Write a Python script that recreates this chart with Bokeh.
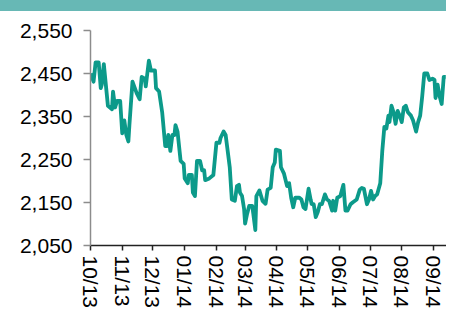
import pandas as pd
from bokeh.plotting import figure
from bokeh.layouts import column
from bokeh.models import Range1d, FixedTicker, NumeralTickFormatter, Div
from bokeh.embed import file_html
from bokeh.resources import INLINE

start_date = "2013-10-01"
end_date = "2014-09-13 17:00"

dates = [
    "2013-10-01", "2013-10-04", "2013-10-06", "2013-10-09", "2013-10-11", "2013-10-12",
    "2013-10-14", "2013-10-18", "2013-10-22", "2013-10-23", "2013-10-25", "2013-10-27",
    "2013-10-30", "2013-11-01", "2013-11-03", "2013-11-05", "2013-11-07", "2013-11-08",
    "2013-11-11", "2013-11-15", "2013-11-18", "2013-11-20", "2013-11-23", "2013-11-24",
    "2013-11-27", "2013-11-29", "2013-12-03", "2013-12-04", "2013-12-07", "2013-12-10",
    "2013-12-13", "2013-12-15", "2013-12-16", "2013-12-18", "2013-12-20", "2013-12-22",
    "2013-12-23", "2013-12-25", "2013-12-28", "2013-12-31", "2014-01-01", "2014-01-04",
    "2014-01-05", "2014-01-08", "2014-01-09", "2014-01-11", "2014-01-13", "2014-01-16",
    "2014-01-18", "2014-01-20", "2014-01-21", "2014-01-25", "2014-01-29", "2014-02-01",
    "2014-02-04", "2014-02-05", "2014-02-08", "2014-02-10", "2014-02-12", "2014-02-14",
    "2014-02-16", "2014-02-19", "2014-02-21", "2014-02-23", "2014-02-24", "2014-02-26",
    "2014-02-28", "2014-03-01", "2014-03-03", "2014-03-05", "2014-03-08", "2014-03-09",
    "2014-03-11", "2014-03-12", "2014-03-15", "2014-03-18", "2014-03-21", "2014-03-23",
    "2014-03-26", "2014-03-28", "2014-03-30", "2014-03-31", "2014-04-04", "2014-04-05",
    "2014-04-08", "2014-04-11", "2014-04-13", "2014-04-15", "2014-04-17", "2014-04-19",
    "2014-04-23", "2014-04-25", "2014-04-27", "2014-04-29", "2014-05-02", "2014-05-04",
    "2014-05-05", "2014-05-07", "2014-05-09", "2014-05-11", "2014-05-13", "2014-05-15",
    "2014-05-18", "2014-05-20", "2014-05-22", "2014-05-25", "2014-05-26", "2014-05-28",
    "2014-05-30", "2014-06-02", "2014-06-05", "2014-06-07", "2014-06-09", "2014-06-12",
    "2014-06-14", "2014-06-18", "2014-06-21", "2014-06-23", "2014-06-25", "2014-06-28",
    "2014-06-30", "2014-07-02", "2014-07-04", "2014-07-06", "2014-07-08", "2014-07-11",
    "2014-07-13", "2014-07-15", "2014-07-17", "2014-07-19", "2014-07-20", "2014-07-22",
    "2014-07-24", "2014-07-26", "2014-07-28", "2014-07-30", "2014-08-01", "2014-08-03",
    "2014-08-05", "2014-08-07", "2014-08-10", "2014-08-12", "2014-08-15", "2014-08-17",
    "2014-08-19", "2014-08-21", "2014-08-23", "2014-08-26", "2014-08-28", "2014-08-31",
    "2014-09-02", "2014-09-03", "2014-09-05", "2014-09-07", "2014-09-09", "2014-09-11",
    "2014-09-13",
]

prices = [
    2450, 2431, 2476, 2476, 2416, 2424,
    2472, 2375, 2367, 2408, 2371, 2386,
    2386, 2311, 2341, 2307, 2292, 2330,
    2431, 2405, 2390, 2442, 2438, 2420,
    2480, 2457, 2457, 2416, 2408, 2360,
    2281, 2281, 2307, 2270, 2307, 2307,
    2330, 2315, 2247, 2240, 2206, 2195,
    2214, 2214, 2173, 2165, 2247, 2247,
    2225, 2225, 2202, 2206, 2214, 2289,
    2289, 2300, 2315, 2307, 2270, 2232,
    2157, 2154, 2188, 2191, 2173, 2165,
    2135, 2101, 2124, 2142, 2142, 2124,
    2086, 2165, 2178, 2154, 2147, 2180,
    2184, 2232, 2243, 2273, 2270, 2232,
    2217, 2188, 2195, 2161, 2139, 2161,
    2161, 2157, 2139, 2135, 2182, 2157,
    2146, 2146, 2116, 2128, 2146, 2146,
    2169, 2157, 2154, 2131, 2154, 2131,
    2161, 2165, 2191, 2131, 2131, 2146,
    2150, 2157, 2180, 2184, 2182, 2146,
    2157, 2177, 2157, 2165, 2169, 2195,
    2270, 2326, 2322, 2352, 2337, 2375,
    2360, 2333, 2363, 2352, 2337, 2371,
    2375, 2360, 2352, 2341, 2315, 2337,
    2352, 2397, 2450, 2450, 2435, 2438,
    2435, 2393, 2424, 2397, 2379, 2442,
    2442,
]

tick_months = ["2013-10-01", "2013-11-01", "2013-12-01", "2014-01-01", "2014-02-01",
               "2014-03-01", "2014-04-01", "2014-05-01", "2014-06-01", "2014-07-01",
               "2014-08-01", "2014-09-01"]
tick_labels = ["10/13", "11/13", "12/13", "01/14", "02/14", "03/14", "04/14",
               "05/14", "06/14", "07/14", "08/14", "09/14"]

y_ticks = [2050, 2150, 2250, 2350, 2450, 2550]

t0 = pd.Timestamp(start_date)
xs = [(pd.Timestamp(d) - t0) / pd.Timedelta(days=1) for d in dates]
tick_pos = [(pd.Timestamp(d) - t0) / pd.Timedelta(days=1) for d in tick_months]
x_end = (pd.Timestamp(end_date) - t0) / pd.Timedelta(days=1)

header = Div(text="", width=446, height=11, margin=(0, 0, 0, 0),
             styles={"background-color": "#67b8b5"})

p = figure(width=446, height=300, output_backend="svg", toolbar_location=None,
           x_range=Range1d(0, x_end), y_range=Range1d(2050, 2550),
           min_border_left=90, min_border_right=0, min_border_top=19, min_border_bottom=62,
           margin=(0, 0, 0, 0))
p.outline_line_color = None
p.grid.visible = False
p.background_fill_color = "white"
p.border_fill_color = "white"

p.line(xs, prices, line_color="#0c9a8a", line_width=3.8, line_join="round")

font = "Liberation Sans"

xa = p.xaxis[0]
xa.ticker = FixedTicker(ticks=tick_pos)
xa.major_label_overrides = {t: l for t, l in zip(tick_pos, tick_labels)}
xa.major_label_orientation = "vertical"
xa.major_label_text_font = font
xa.major_label_text_font_size = "21px"
xa.major_label_text_color = "black"
xa.axis_line_color = "#222222"
xa.axis_line_width = 1.5
xa.major_tick_line_color = "#222222"
xa.major_tick_line_width = 1.5
xa.major_tick_in = 0
xa.major_tick_out = 5
xa.minor_tick_out = 0
xa.minor_tick_in = 0
xa.major_label_standoff = 5

ya = p.yaxis[0]
ya.ticker = FixedTicker(ticks=y_ticks)
ya.formatter = NumeralTickFormatter(format="0,0")
ya.major_label_text_font = font
ya.major_label_text_font_size = "21px"
ya.major_label_text_color = "black"
ya.axis_line_color = "#8c8c8c"
ya.axis_line_width = 1.5
ya.major_tick_line_color = "#8c8c8c"
ya.major_tick_line_width = 1.5
ya.major_tick_in = 0
ya.major_tick_out = 7
ya.minor_tick_out = 0
ya.minor_tick_in = 0
ya.major_label_standoff = 11

layout = column(header, p, spacing=0)

open("out.html", "w").write(file_html(layout, INLINE))
